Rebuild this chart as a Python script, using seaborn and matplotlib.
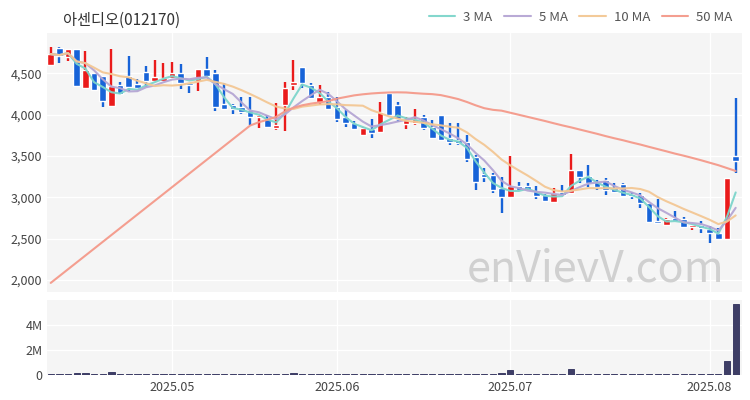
import numpy as np
import pandas as pd
import matplotlib
matplotlib.use('Agg')
import matplotlib.pyplot as plt
import seaborn as sns
from matplotlib.ticker import FuncFormatter

sns.set_style("whitegrid")
plt.rcParams['font.family'] = ['Noto Sans CJK KR', 'DejaVu Sans']

title = "아센디오(012170)"
watermark = "enVievV.com"

# trading days shown on the chart
holidays = ["2025-05-01", "2025-05-05", "2025-05-06", "2025-06-06"]
dates = pd.bdate_range("2025-04-11", "2025-08-06", freq="C", holidays=holidays)

opens = [4600, 4810, 4700, 4795, 4325, 4510, 4470, 4105, 4360, 4465,
         4370, 4520, 4410, 4410, 4440, 4500, 4385, 4410, 4550, 4500,
         4135, 4115, 4095, 4055, 3975, 3955, 3845, 4115, 4365, 4580,
         4360, 4155, 4215, 4095, 3975, 3905, 3755, 3830, 3795, 4260,
         4115, 3885, 3895, 3970, 3855, 3995, 3715, 3695, 3675, 3485,
         3280, 3270, 3110, 3010, 3140, 3135, 3075, 3030, 2950, 3070,
         3050, 3330, 3260, 3190, 3210, 3115, 3160, 3040, 3030, 2935,
         2720, 2665, 2745, 2735, 2640, 2665, 2615, 2575, 2495, 3500]
highs = [4815, 4815, 4795, 4795, 4770, 4510, 4470, 4795, 4400, 4710,
         4430, 4590, 4660, 4630, 4635, 4610, 4385, 4550, 4695, 4540,
         4380, 4135, 4215, 4215, 3995, 3995, 4145, 4400, 4660, 4580,
         4380, 4360, 4280, 4215, 4055, 3930, 3850, 3945, 4155, 4260,
         4155, 3975, 4075, 3995, 3935, 3995, 3895, 3895, 3755, 3510,
         3350, 3290, 3250, 3500, 3190, 3170, 3135, 3040, 3110, 3150,
         3525, 3330, 3390, 3210, 3230, 3170, 3170, 3070, 3050, 2935,
         2975, 2745, 2840, 2760, 2665, 2720, 2650, 2625, 3240, 4200]
lows = [4590, 4630, 4650, 4340, 4310, 4290, 4090, 4100, 4245, 4290,
        4310, 4340, 4410, 4400, 4435, 4310, 4260, 4290, 4465, 4045,
        4055, 4015, 4015, 3875, 3835, 3855, 3815, 3805, 4300, 4320,
        4205, 4115, 4065, 3915, 3855, 3815, 3740, 3715, 3775, 3980,
        3915, 3825, 3875, 3815, 3715, 3700, 3635, 3635, 3430, 3090,
        3190, 3050, 2815, 3000, 3080, 3080, 2975, 2960, 2935, 3020,
        3050, 3170, 3130, 3090, 3030, 3050, 3000, 2975, 2870, 2705,
        2685, 2655, 2720, 2630, 2605, 2565, 2450, 2495, 2495, 3300]
closes = [4735, 4710, 4795, 4345, 4540, 4300, 4170, 4350, 4250, 4340,
          4320, 4405, 4460, 4445, 4500, 4380, 4365, 4550, 4465, 4095,
          4075, 4075, 4035, 3975, 3995, 3855, 3875, 4320, 4400, 4380,
          4205, 4210, 4075, 3955, 3895, 3825, 3835, 3780, 4035, 3995,
          3945, 3935, 3945, 3835, 3715, 3700, 3675, 3655, 3470, 3190,
          3245, 3090, 3010, 3135, 3090, 3090, 3015, 2960, 3055, 3030,
          3330, 3245, 3175, 3120, 3095, 3060, 3015, 3015, 2930, 2705,
          2685, 2735, 2720, 2645, 2665, 2625, 2565, 2495, 3240, 3445]
# volume in thousands of shares
volumes = [80, 70, 60, 160, 140, 110, 100, 210, 80, 70,
           60, 90, 60, 70, 60, 70, 55, 60, 70, 120,
           80, 60, 55, 60, 60, 55, 60, 120, 130, 80,
           70, 60, 55, 60, 65, 60, 55, 60, 110, 70,
           60, 55, 55, 60, 55, 60, 55, 55, 60, 90,
           100, 70, 160, 400, 80, 60, 55, 60, 55, 70,
           480, 80, 70, 60, 55, 55, 60, 55, 55, 70,
           80, 60, 70, 55, 60, 55, 60, 80, 1150, 5680]
volumes = [v * 1000 for v in volumes]

nan = np.nan
ma50 = [1965] + [nan] * 22 + [
    3870, 3910, 3940, 3975, 4040, 4085, 4115, 4135, 4150, 4165,
    4195, 4215, 4235, 4248, 4258, 4265, 4270, 4272, 4270, 4262,
    4255, 4250, 4238, 4215, 4190, 4155, 4115, 4080, 4060, 4050,
    4025, 4000, 3975, 3950, 3925, 3898, 3872, 3848, 3822, 3796,
    3770, 3742, 3716, 3692, 3665, 3640, 3612, 3585, 3558, 3530,
    3505, 3478, 3450, 3420, 3390, 3355, 3320]

ma_names = ["3 MA", "5 MA", "10 MA", "50 MA"]
ma_colors = ["#7dd5cb", "#b5a6d4", "#f3c794", "#f4998a"]
up_color = "#ea1b1b"
down_color = "#1763d8"
vol_color = "#3e3e66"
bg = "#f5f5f5"

df = pd.DataFrame({"date": dates, "open": opens, "high": highs, "low": lows,
                   "close": closes, "volume": volumes, "50 MA": ma50})
df["x"] = np.arange(len(df))
df["3 MA"] = df["close"].rolling(3, min_periods=1).mean()
df["5 MA"] = df["close"].rolling(5, min_periods=1).mean()
df["10 MA"] = df["close"].rolling(10, min_periods=1).mean()

month_start = df.groupby(df["date"].dt.to_period("M"))["x"].min()
month_start = month_start[month_start > 0]
tick_pos = month_start.values
tick_labels = [p.strftime("%Y.%m") for p in month_start.index]

fig = plt.figure(figsize=(7.5, 4), dpi=100)
ax = fig.add_axes([0.063, 0.27, 0.926, 0.6475])
axv = fig.add_axes([0.063, 0.0625, 0.926, 0.1875])

for a in (ax, axv):
    a.set_facecolor(bg)
    for s in a.spines.values():
        s.set_visible(False)
    a.grid(True, color="white", linewidth=1)
    a.tick_params(length=0, labelsize=9, colors="#444444")
    a.set_xlim(-0.4, 79.7)
    a.set_xticks(tick_pos)

# candles
up = df["close"] >= df["open"]
colors = np.where(up, up_color, down_color)
body_lo = np.minimum(df["open"], df["close"])
body_h = np.maximum((df["close"] - df["open"]).abs(), 15)
ax.vlines(df["x"], df["low"], df["high"], colors=colors, linewidth=1.7, zorder=2)
ax.bar(df["x"], body_h, bottom=body_lo, width=0.76, color=colors, zorder=3)

# moving averages
for name, col in zip(ma_names, ma_colors):
    d = df[["x", name]].dropna()
    sns.lineplot(x=d["x"], y=d[name], ax=ax, color=col, linewidth=1.5,
                 label=name, zorder=4, alpha=0.95)

ax.set_ylim(1855, 4990)
ax.set_yticks([2000, 2500, 3000, 3500, 4000, 4500])
ax.yaxis.set_major_formatter(FuncFormatter(lambda v, _: f"{v:,.0f}"))
ax.set_xticklabels([])
ax.set_xlabel("")
ax.set_ylabel("")
ax.legend(loc="lower right", bbox_to_anchor=(1.0, 1.0), ncol=4, frameon=False,
          fontsize=9.5, handlelength=2.0, columnspacing=0.9, handletextpad=0.6,
          labelcolor="#555555", borderaxespad=0.3)

ax.text(0.789, 0.085, watermark, transform=ax.transAxes, fontsize=31,
        color="#d0d0d0", ha="center", va="center", zorder=1)

# volume
axv.bar(df["x"], df["volume"], width=0.72, color=vol_color,
        edgecolor=vol_color, linewidth=0.7, zorder=3)
axv.set_ylim(0, 6e6)
axv.set_yticks([0, 2e6, 4e6])
axv.yaxis.set_major_formatter(FuncFormatter(lambda v, _: "0" if v == 0 else f"{v/1e6:.0f}M"))
axv.set_xticklabels(tick_labels)
axv.tick_params(axis="x", pad=4)

fig.text(0.084, 0.95, title, fontsize=11, color="#333333", va="center")

plt.savefig("out.png", dpi=100)
